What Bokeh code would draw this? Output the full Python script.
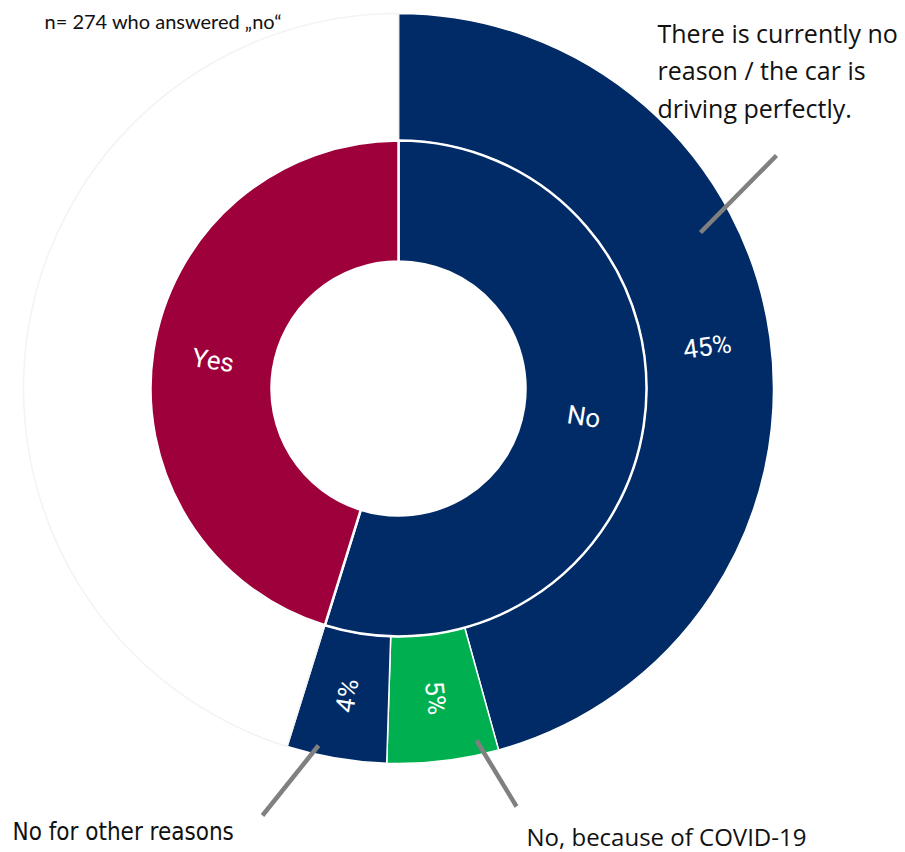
import math
from bokeh.plotting import figure
from bokeh.models import Range1d, ColumnDataSource
from bokeh.core.properties import value
from bokeh.embed import file_html
from bokeh.resources import INLINE

# ---------------- data ----------------
inner_labels = ["No", "Yes"]
inner_values = [54.8, 45.2]
inner_colors = ["#012b66", "#9d003a"]

outer_labels = ["45%", "5%", "4%", ""]
outer_values = [45.7, 4.8, 4.3, 45.2]
outer_colors = ["#012b66", "#00b050", "#012b66", "#ffffff"]
outer_lines = ["#ffffff", "#ffffff", "#ffffff", "#f3f3f3"]

note_text = "n= 274 who answered \u201eno\u201c"
callout_reason = ["There is currently no", "reason / the car is", "driving perfectly."]
callout_covid = "No, because of COVID-19"
callout_other = "No for other reasons"

# ---------------- layout ----------------
W, H = 905, 852
CX, CY = 398, 388          # screen px of centre
R0, R1, R2 = 127, 248, 375


def sy(y):
    return H - y


def ring(values, labels, r_in, r_out):
    total = 100.0
    starts, ends, lx, ly, ang = [], [], [], [], []
    t = 0.0
    for v in values:
        t0 = t
        t1 = t + v / total * 360.0
        starts.append(90 - t0)
        ends.append(90 - t1)
        mid = (t0 + t1) / 2
        rm = (r_in + r_out) / 2
        lx.append(CX + rm * math.sin(math.radians(mid)))
        ly.append(sy(CY - rm * math.cos(math.radians(mid))))
        a = 90 - mid
        if mid > 180:
            a += 180
        ang.append(a)
        t = t1
    return starts, ends, lx, ly, ang


p = figure(width=W, height=H, output_backend="svg", toolbar_location=None,
           x_range=Range1d(0, W), y_range=Range1d(0, H),
           min_border=0)
p.axis.visible = False
p.grid.visible = False
p.outline_line_color = None
p.background_fill_color = "white"

# outer ring
s, e, lx, ly, ang = ring(outer_values, outer_labels, R1, R2)
src_o = ColumnDataSource(dict(start=s, end=e, color=outer_colors, lc=outer_lines,
                              lx=lx, ly=ly, ang=ang, label=outer_labels))
p.annular_wedge(x=CX, y=sy(CY), inner_radius=R1, outer_radius=R2,
                start_angle="start", end_angle="end",
                start_angle_units="deg", end_angle_units="deg",
                direction="clock", fill_color="color", line_color="lc",
                line_width=1.5, source=src_o)

# inner ring
s2, e2, lx2, ly2, ang2 = ring(inner_values, inner_labels, R0, R1)
src_i = ColumnDataSource(dict(start=s2, end=e2, color=inner_colors,
                              lx=lx2, ly=ly2, ang=ang2, label=inner_labels))
p.annular_wedge(x=CX, y=sy(CY), inner_radius=R0, outer_radius=R1,
                start_angle="start", end_angle="end",
                start_angle_units="deg", end_angle_units="deg",
                direction="clock", fill_color="color", line_color="white",
                line_width=2.5, source=src_i)

lab_font = value("Roboto")
p.text(x="lx", y="ly", text="label", angle="ang", angle_units="deg", source=src_o,
       text_color="white", text_font=lab_font, text_font_size="26px",
       text_align="center", text_baseline="middle")
p.text(x="lx", y="ly", text="label", angle="ang", angle_units="deg", source=src_i,
       text_color="white", text_font=lab_font, text_font_size="26px",
       text_align="center", text_baseline="middle")

# leader lines
p.segment(x0=[700, 318, 476], y0=[sy(232), sy(745), sy(740)],
          x1=[776, 262, 516], y1=[sy(155), sy(815), sy(806)],
          line_color="#808080", line_width=4.5)

# callouts
co_font = value("Open Sans")
p.text(x=[657] * 3, y=[sy(32), sy(69.5), sy(107)], text=callout_reason,
       text_font=co_font, text_font_size="25px", text_color="#111111",
       text_align="left", text_baseline="middle")
p.text(x=[526], y=[sy(836)], text=[callout_covid],
       text_font=co_font, text_font_size="24px", text_color="#111111",
       text_align="left", text_baseline="middle")
p.text(x=[12], y=[sy(831)], text=[callout_other],
       text_font=value("DejaVu Sans Condensed"), text_font_size="24px",
       text_color="#111111", text_align="left", text_baseline="middle")
p.text(x=[44], y=[sy(20)], text=[note_text],
       text_font=value("Lato"), text_font_size="20px", text_color="#111111",
       text_align="left", text_baseline="middle")

open("out.html", "w").write(file_html(p, INLINE))
